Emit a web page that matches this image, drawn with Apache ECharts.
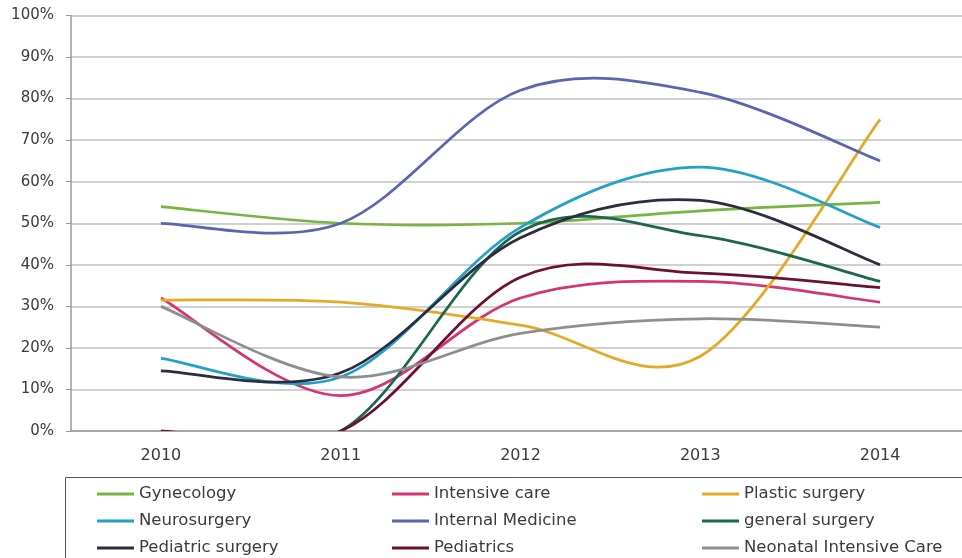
<!DOCTYPE html>
<html>
<head>
<meta charset="utf-8">
<script src="https://cdn.jsdelivr.net/npm/echarts@6/dist/echarts.min.js"></script>
<style>
  html, body { margin: 0; padding: 0; background: #fff; }
  #chart { width: 962px; height: 558px; }
</style>
</head>
<body>
<div id="chart"></div>
<script>
  // years on the x axis
  let years = ['2010', '2011', '2012', '2013', '2014']

  // percent values
  let gynecology = [54, 50, 50, 53, 55]
  let intensiveCare = [32, 8.5, 32, 36, 31]
  let plasticSurgery = [31.5, 31, 25.5, 18, 75]
  let neurosurgery = [17.5, 13, 49, 63.5, 49]
  let internalMedicine = [50, 50, 82, 81.5, 65]
  let generalSurgery = [0, 0, 48, 47, 36]
  let pediatricSurgery = [14.5, 14, 46.5, 55.5, 40]
  let pediatrics = [0, 0, 37, 38, 34.5]
  let neonatalIC = [30, 13, 23.5, 27, 25]

  let names = ['Gynecology', 'Intensive care', 'Plastic surgery', 'Neurosurgery', 'Internal Medicine',
    'general surgery', 'Pediatric surgery', 'Pediatrics', 'Neonatal Intensive Care']
  let values = [gynecology, intensiveCare, plasticSurgery, neurosurgery, internalMedicine,
    generalSurgery, pediatricSurgery, pediatrics, neonatalIC]
  let colors = ['#77b442', '#d33573', '#e5a928', '#23a0c8', '#5b64b0',
    '#1b6650', '#2b2d3f', '#6a1034', '#8e8e8e']

  let font = 'DejaVu Sans'

  // spreadsheet-style smoothing (catmull-rom), overshoots like the original
  let smoothPath = function(pts) {
    let d = 'M' + pts[0][0] + ' ' + pts[0][1]
    let last = pts.length - 1
    for (let i = 0; i < last; i++) {
      let p0 = pts[Math.max(i - 1, 0)], p1 = pts[i], p2 = pts[i + 1], p3 = pts[Math.min(i + 2, last)]
      let c1x = p1[0] + (p2[0] - p0[0]) / 6, c1y = p1[1] + (p2[1] - p0[1]) / 6
      let c2x = p2[0] - (p3[0] - p1[0]) / 6, c2y = p2[1] - (p3[1] - p1[1]) / 6
      d += ' C' + c1x + ' ' + c1y + ' ' + c2x + ' ' + c2y + ' ' + p2[0] + ' ' + p2[1]
    }
    return d
  }

  let legendCol = function(left, data) {
    return {
      orient: 'vertical',
      left: left,
      top: 485,
      padding: 0,
      icon: 'rect',
      itemWidth: 37,
      itemHeight: 3,
      itemGap: 9,
      selectedMode: false,
      textStyle: { fontFamily: font, fontSize: 16.5, color: '#3a3a3a', lineHeight: 18 },
      data: data
    }
  }

  let myChart = echarts.init(document.getElementById('chart'))
  let option = {
    animation: false,
    color: colors,
    grid: {
      left: 71,
      right: -8,
      top: 15.5,
      bottom: 127,
      containLabel: false,
      outerBoundsMode: 'none'
    },
    legend: [
      legendCol(97, ['Gynecology', 'Neurosurgery', 'Pediatric surgery']),
      legendCol(392, ['Intensive care', 'Internal Medicine', 'Pediatrics']),
      legendCol(702, ['Plastic surgery', 'general surgery', 'Neonatal Intensive Care'])
    ],
    graphic: [{
      type: 'rect',
      shape: { x: 65.5, y: 477.5, width: 920, height: 100 },
      style: { fill: 'none', stroke: '#555', lineWidth: 1 }
    }],
    xAxis: {
      type: 'category',
      data: years,
      axisLine: { lineStyle: { color: '#999', width: 1.5 } },
      axisTick: { length: 7, lineStyle: { color: '#999' } },
      axisLabel: { margin: 17, fontFamily: font, fontSize: 16, color: '#3a3a3a' }
    },
    yAxis: {
      type: 'value',
      min: 0,
      max: 100,
      interval: 10,
      axisLine: { show: true, lineStyle: { color: '#999', width: 1.5 } },
      axisTick: { show: true, length: 5, lineStyle: { color: '#999' } },
      splitLine: { lineStyle: { color: '#c0c0c0', width: 1.5 } },
      axisLabel: { margin: 17, fontFamily: font, fontSize: 15, color: '#3a3a3a', formatter: '{value}%' }
    },
    series: names.map(function(n, i) {
      let vals = values[i]
      return {
        name: n,
        type: 'custom',
        itemStyle: { color: colors[i] },
        encode: { x: 0, y: 1 },
        data: vals.map(function(v, j) { return [j, v] }),
        renderItem: function(params, api) {
          if (params.dataIndex !== 0) return null
          let pts = vals.map(function(v, j) { return api.coord([j, v]) })
          let cs = params.coordSys
          return {
            type: 'group',
            clipPath: { type: 'rect', shape: { x: cs.x, y: cs.y - 2, width: cs.width, height: cs.height + 2 } },
            children: [{
              type: 'path',
              shape: { pathData: smoothPath(pts) },
              style: { fill: 'none', stroke: colors[i], lineWidth: 2.75 }
            }]
          }
        }
      }
    })
  }
  myChart.setOption(option)
</script>
</body>
</html>
